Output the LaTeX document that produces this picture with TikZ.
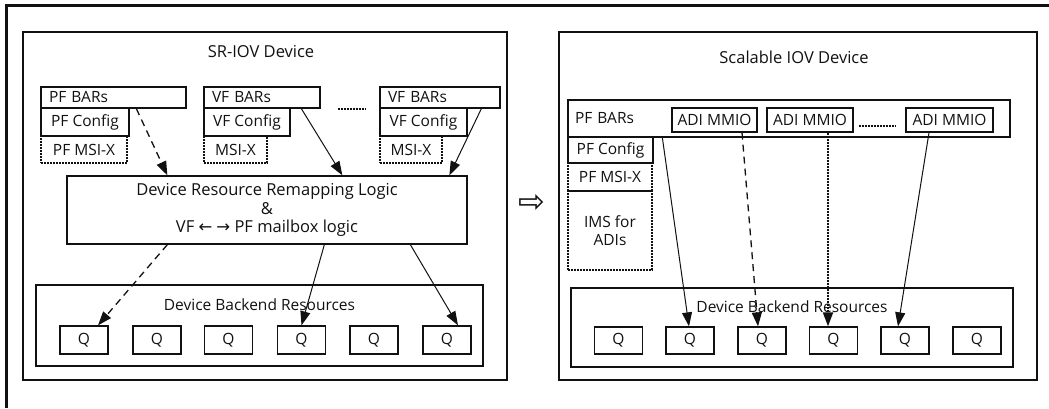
\documentclass[tikz,border=0pt]{standalone}
\usepackage{fontspec}
\setmainfont{Open Sans}
\newfontfamily\symfont{DejaVu Sans}
\usetikzlibrary{arrows.meta}
\definecolor{ink}{HTML}{111111}
\tikzset{
  box/.style={draw=ink, line width=1.3pt, inner sep=0pt, align=center,
              font=\fontsize{15.5}{18.5}\selectfont, text=ink},
  bars/.style={box, align=left, inner xsep=8pt, text width=#1},
  dbox/.style={box, line width=2.2pt, dash pattern=on 2pt off 1pt},
  dev/.style={draw=ink, line width=1.4pt},
  lbl/.style={font=\fontsize{15.5}{18.5}\selectfont, text=ink, inner sep=0pt},
  dots/.style={draw=ink, line width=2.2pt, dash pattern=on 2pt off 1pt},
  fl/.style={-{Triangle[length=14pt, width=10pt]}, line width=1pt, draw=ink},
  dfl/.style={fl, line width=1.3pt, dash pattern=on 7pt off 5pt},
  ofl/.style={fl, line width=2pt, dash pattern=on 2pt off 1pt},
}
\begin{document}
\begin{tikzpicture}[x=1pt, y=-1pt]
    \useasboundingbox (0,0) rectangle (1049,408);
    \draw[draw=ink, line width=3pt] (6,408) -- (6,5) -- (1049,5);
    % SR-IOV side
    \node[dev, minimum width=484pt, minimum height=348pt] (devL) at (265,206) {};
    \node[lbl, font=\fontsize{16.5}{20}\selectfont] (devLt) at (261,52) {SR-IOV Device};
    \node[bars=129pt, minimum height=21pt] (pfbarsL) at (113.5,97.5) {PF BARs};
    \node[box, minimum width=88pt, minimum height=28pt] (pfcfgL) at (85,122) {PF Config};
    \node[dbox, minimum width=86pt, minimum height=27pt] (pfmsiL) at (84,149.5) {PF MSI-X};
    \node[bars=100pt, minimum height=21pt] (vfbarsA) at (262,97.5) {VF BARs};
    \node[box, minimum width=86pt, minimum height=28pt] (vfcfgA) at (247,122) {VF Config};
    \node[dbox, minimum width=63pt, minimum height=27pt] (vfmsiA) at (235.5,149.5) {MSI-X};
    \node[bars=104pt, minimum height=21pt] (vfbarsB) at (440,97.5) {VF BARs};
    \node[box, minimum width=87pt, minimum height=28pt] (vfcfgB) at (423.5,122) {VF Config};
    \node[dbox, minimum width=62pt, minimum height=27pt] (vfmsiB) at (411,149.5) {MSI-X};
    \draw[dots] ([xshift=17pt]vfbarsA.south east) -- ([xshift=-13pt]vfbarsB.south west);
    \node[box, font=\fontsize{16.5}{18.5}\selectfont, minimum width=400pt, minimum height=68pt] (remap) at (267,210)
      {Device Resource Remapping Logic\\\&\\VF {\symfont ←\hspace{4pt}→} PF mailbox logic};
    \node[dev, minimum width=447pt, minimum height=81pt] (backL) at (259.5,325.5) {};
    \node[lbl] (backLt) at (259.5,305) {Device Backend Resources};
    \node[box, minimum width=48pt, minimum height=28pt] (qL1) at (84,340) {Q};
    \node[box, minimum width=48pt, minimum height=28pt] (qL2) at (157,340) {Q};
    \node[box, minimum width=48pt, minimum height=28pt] (qL3) at (228.5,340) {Q};
    \node[box, minimum width=48pt, minimum height=28pt] (qL4) at (301.5,340) {Q};
    \node[box, minimum width=48pt, minimum height=28pt] (qL5) at (374,340) {Q};
    \node[box, minimum width=48pt, minimum height=28pt] (qL6) at (447,340) {Q};
    \draw[dfl] ([xshift=96pt]pfbarsL.south west) -- ([xshift=101pt]remap.north west);
    \draw[fl] ([xshift=98pt]vfbarsA.south west) -- ([xshift=276pt]remap.north west);
    \draw[fl] ([xshift=102pt]vfbarsB.south west) -- ([xshift=383pt]remap.north west);
    \draw[dfl] ([xshift=101pt]remap.south west) -- ([xshift=14pt]qL1.north);
    \draw[fl] ([xshift=258pt]remap.south west) -- (qL4.north);
    \draw[fl] ([xshift=344pt]remap.south west) -- ([xshift=11pt]qL6.north);
    \node[lbl, font=\symfont\fontsize{32}{32}\selectfont] (becomes) at (532,204) {⇨};
    % Scalable IOV side
    \node[dev, minimum width=478pt, minimum height=348pt] (devR) at (798,206) {};
    \node[lbl, font=\fontsize{16.5}{20}\selectfont] (devRt) at (794,57) {Scalable IOV Device};
    \node[bars=428pt, inner xsep=7pt, minimum height=37pt] (pfbarsR) at (789,118.5) {PF BARs};
    \node[box, minimum width=85pt, minimum height=24pt] (adi1) at (714.5,120) {ADI MMIO};
    \node[box, minimum width=86pt, minimum height=24pt] (adi2) at (810,120) {ADI MMIO};
    \node[box, minimum width=87pt, minimum height=24pt] (adi3) at (949.5,120) {ADI MMIO};
    \draw[dots] ([xshift=5pt, yshift=-6pt]adi2.east) -- ([xshift=-9pt, yshift=-6pt]adi3.west);
    \node[box, minimum width=85pt, minimum height=26pt] (pfcfgR) at (610.5,150) {PF Config};
    \node[dbox, minimum width=84pt, minimum height=28pt] (pfmsiR) at (610,177) {PF MSI-X};
    \node[dbox, minimum width=84pt, minimum height=79pt] (imsR) at (610,230.5) {IMS for\\ADIs};
    \node[dev, minimum width=442pt, minimum height=79pt] (backR) at (792,327.5) {};
    \node[lbl] (backRt) at (792,307) {Device Backend Resources};
    \node[box, minimum width=48pt, minimum height=27pt] (qR1) at (618.5,340.5) {Q};
    \node[box, minimum width=48pt, minimum height=27pt] (qR2) at (690,340.5) {Q};
    \node[box, minimum width=48pt, minimum height=27pt] (qR3) at (762,340.5) {Q};
    \node[box, minimum width=48pt, minimum height=27pt] (qR4) at (833.5,340.5) {Q};
    \node[box, minimum width=48pt, minimum height=27pt] (qR5) at (905,340.5) {Q};
    \node[box, minimum width=48pt, minimum height=27pt] (qR6) at (977,340.5) {Q};
    \draw[fl] ([xshift=95pt]pfbarsR.south west) -- ([xshift=-1pt]qR2.north);
    \draw[dfl] ([xshift=27.5pt]adi1.south) -- ([xshift=-4pt]qR3.north);
    \draw[ofl] ([xshift=18pt]adi2.south) -- ([xshift=-5.5pt]qR4.north);
    \draw[fl] ([xshift=-20.5pt]adi3.south) -- ([xshift=-7pt]qR5.north);
  \end{tikzpicture}
\end{document}
